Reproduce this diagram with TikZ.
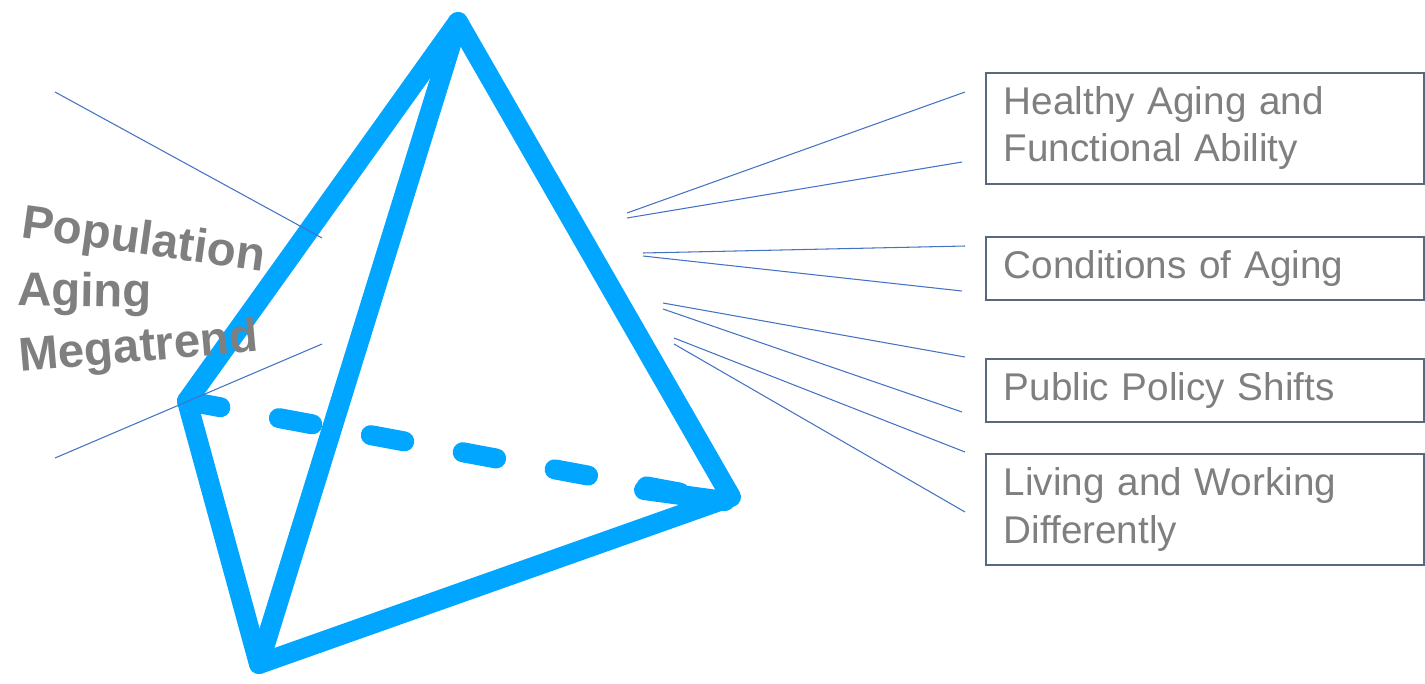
\documentclass[tikz,border=0pt]{standalone}
\usepackage{fontspec}
\setmainfont{Liberation Sans}
\usetikzlibrary{positioning}
\definecolor{tetrablue}{RGB}{0,166,255}
\definecolor{leadblue}{RGB}{68,114,196}
\definecolor{textgray}{RGB}{127,127,127}
\definecolor{boxline}{RGB}{90,104,125}
\tikzset{
    tetra/.style={draw=tetrablue, line width=0.4cm, line cap=round, line join=round},
    leader/.style={draw=leadblue, line width=0.6pt},
    topic/.style={rectangle, draw=boxline, line width=0.9pt, text=textgray, align=left, text width=8.04cm, inner xsep=0.36cm, anchor=north west, font=\fontsize{22}{27}\selectfont},
    trend/.style={text=textgray, inner sep=0pt, anchor=base west, font=\fontsize{27}{32}\selectfont\bfseries}
}

\begin{document}
\begin{tikzpicture}[x=0.02cm, y=-0.02cm]
    \useasboundingbox (0,0) rectangle (1425,683);

    % Tetrahedron corners
    \coordinate (Top) at (458,22);
    \coordinate (Left) at (187,401);
    \coordinate (Bottom) at (259,664);
    \coordinate (Right) at (731,497);
    \coordinate (DashEnd) at (644,490);
    \coordinate (DashTip) at (725,501);

    % Tetrahedron edges
    \draw[tetra] (Top) -- (Left) -- (Bottom) -- (Right) -- cycle;
    \draw[tetra] (Top) -- (Bottom);
    \draw[tetra, dash pattern=on 0.68cm off 1.19cm] (Left) -- (DashTip);
    \draw[tetra] (DashEnd) -- (DashTip);

    % Topic boxes
    \node[topic, minimum height=2.22cm] (Healthy) at (985,72) {Healthy Aging and\\Functional Ability};
    \node[topic, minimum height=1.26cm] (Conditions) at (985,236) {Conditions of Aging};
    \node[topic, minimum height=1.26cm] (Policy) at (985,358) {Public Policy Shifts};
    \node[topic, minimum height=2.22cm] (Living) at (985,453) {Living and Working\\Differently};

    % Leader ends
    \coordinate (lt1) at (55,92);   \coordinate (lt2) at (322,238);
    \coordinate (lb1) at (55,458);  \coordinate (lb2) at (322,344);
    \coordinate (h1) at (627,213);  \coordinate (h2) at (965,92);
    \coordinate (h3) at (627,218);  \coordinate (h4) at (962,162);
    \coordinate (c1) at (643,253);  \coordinate (c2) at (965,246);
    \coordinate (c3) at (643,256);  \coordinate (c4) at (962,291);
    \coordinate (p1) at (663,303);  \coordinate (p2) at (965,357);
    \coordinate (p3) at (663,309);  \coordinate (p4) at (962,412);
    \coordinate (w1) at (674,338);  \coordinate (w2) at (965,452);
    \coordinate (w3) at (674,344);  \coordinate (w4) at (965,512);

    % Leaders
    \draw[leader] (lt1) -- (lt2);
    \draw[leader] (lb1) -- (lb2);
    \draw[leader] (h1) -- (h2);
    \draw[leader] (h3) -- (h4);
    \draw[leader] (c1) -- (c2);
    \draw[leader] (c3) -- (c4);
    \draw[leader] (p1) -- (p2);
    \draw[leader] (p3) -- (p4);
    \draw[leader] (w1) -- (w2);
    \draw[leader] (w3) -- (w4);

    % Megatrend label
    \node[trend, rotate=-8] (Population) at (20,237) {Population};
    \node[trend, rotate=-1] (Aging) at (17,305) {Aging};
    \node[trend, rotate=5] (Megatrend) at (20,372) {Megatrend};
\end{tikzpicture}
\end{document}
